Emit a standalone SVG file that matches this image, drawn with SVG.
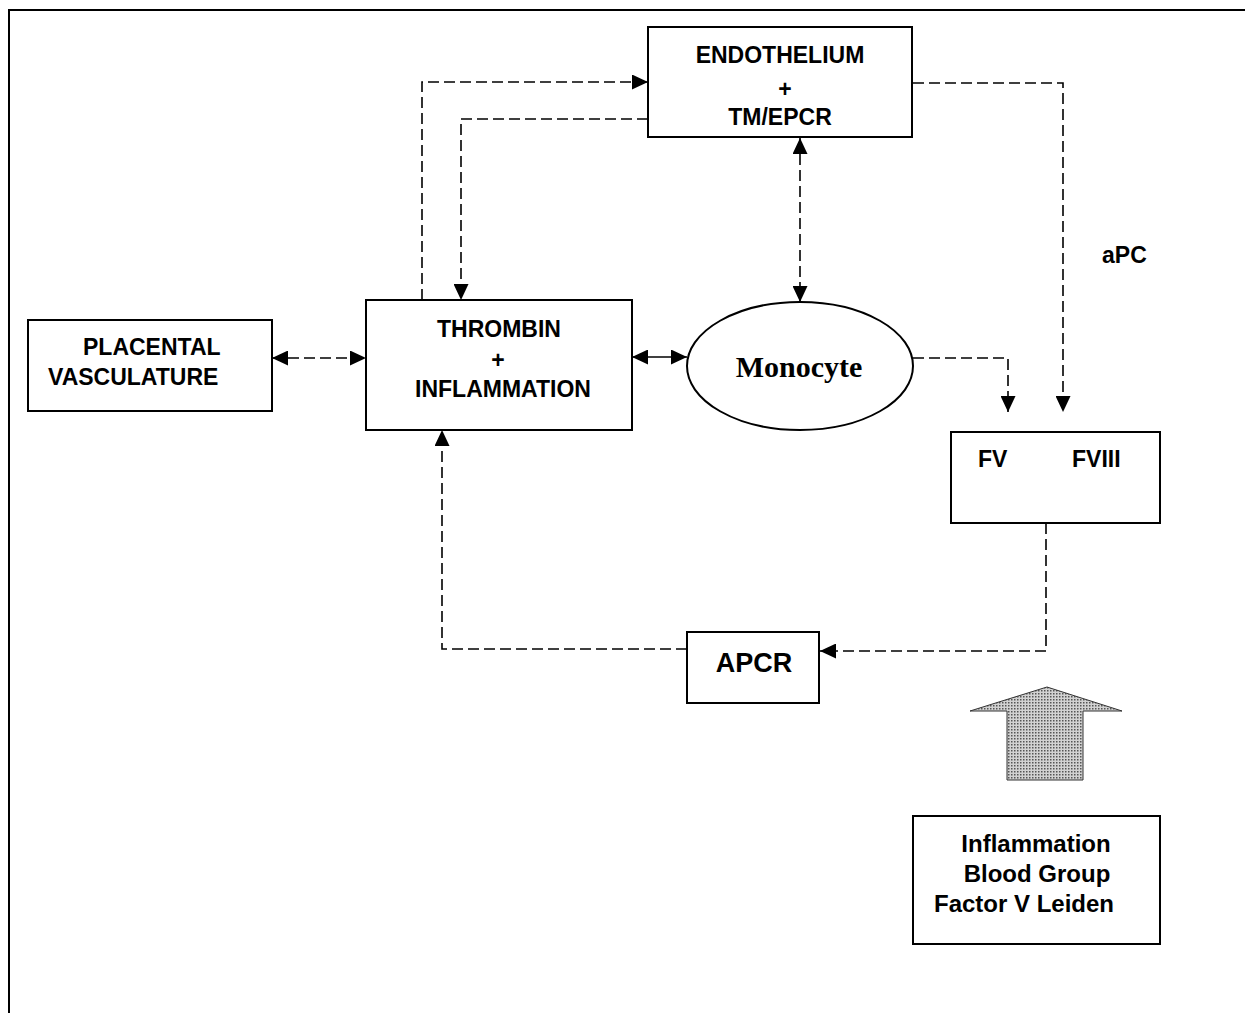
<svg xmlns="http://www.w3.org/2000/svg" width="1245" height="1013" viewBox="0 0 1245 1013">
<style>
.box{fill:#fff;stroke:#000;stroke-width:2}
.lbl{font-family:"Liberation Sans",Arial,sans-serif;font-weight:bold;font-size:23px;fill:#000}
.ser{font-family:"Liberation Serif","Times New Roman",serif;font-weight:bold;font-size:30px;fill:#000}
.c{text-anchor:middle}
.dash{fill:none;stroke:#000;stroke-width:1.6;stroke-dasharray:11 5}
.solid{fill:none;stroke:#000;stroke-width:1.6}
</style>
<defs>
<marker id="ah" markerUnits="userSpaceOnUse" markerWidth="16" markerHeight="15" viewBox="0 0 16 15" refX="16" refY="7.5" orient="auto-start-reverse">
<path d="M0,0 L16,7.5 L0,15 z" fill="#000"/>
</marker>
<pattern id="dots" width="3" height="3" patternUnits="userSpaceOnUse">
<rect width="3" height="3" fill="#d2d2d2"/>
<rect width="1.5" height="1.5" fill="#555"/>
</pattern>
</defs>
<rect width="1245" height="1013" fill="#fff"/>
<g id="frame">
<path d="M9,1013 V10 H1245" fill="none" stroke="#000" stroke-width="2"/>
</g>
<g id="connectors">
<path class="dash" d="M422,300 V82 H648" marker-end="url(#ah)"/>
<path class="dash" d="M648,119 H461 V300" marker-end="url(#ah)"/>
<path class="dash" d="M800,138 V302" marker-start="url(#ah)" marker-end="url(#ah)"/>
<path class="dash" d="M913,83 H1063 V412" marker-end="url(#ah)"/>
<path class="dash" d="M913,358 H1008 V412" marker-end="url(#ah)"/>
<path class="dash" d="M272,358 H366" marker-start="url(#ah)" marker-end="url(#ah)"/>
<path class="solid" d="M632,357 H687" marker-start="url(#ah)" marker-end="url(#ah)"/>
<path class="dash" d="M1046,523 V651 H820" marker-end="url(#ah)"/>
<path class="dash" d="M687,649 H442 V430" marker-end="url(#ah)"/>
</g>
<g id="endothelium">
<rect class="box" x="648" y="27" width="264" height="110"/>
<text class="lbl c" x="780" y="63">ENDOTHELIUM</text>
<text class="lbl c" x="785" y="97">+</text>
<text class="lbl c" x="780" y="125">TM/EPCR</text>
</g>
<g id="placental">
<rect class="box" x="28" y="320" width="244" height="91"/>
<text class="lbl" x="83" y="355">PLACENTAL</text>
<text class="lbl" x="48" y="385">VASCULATURE</text>
</g>
<g id="thrombin">
<rect class="box" x="366" y="300" width="266" height="130"/>
<text class="lbl c" x="499" y="337">THROMBIN</text>
<text class="lbl c" x="498" y="368">+</text>
<text class="lbl c" x="503" y="397">INFLAMMATION</text>
</g>
<g id="monocyte">
<ellipse cx="800" cy="366" rx="113" ry="64" fill="#fff" stroke="#000" stroke-width="2"/>
<text class="ser c" x="799" y="377">Monocyte</text>
</g>
<g id="apc-label">
<text class="lbl" x="1102" y="263">aPC</text>
</g>
<g id="factors">
<rect class="box" x="951" y="432" width="209" height="91"/>
<text class="lbl" x="978" y="467">FV</text>
<text class="lbl" x="1072" y="467">FVIII</text>
</g>
<g id="apcr">
<rect class="box" x="687" y="632" width="132" height="71"/>
<text class="lbl c" x="754" y="672" style="font-size:27px">APCR</text>
</g>
<g id="big-arrow">
<polygon points="1047,687 1122,711 1083,711 1083,780 1007,780 1007,711 970,711" fill="url(#dots)" stroke="#333" stroke-width="1"/>
</g>
<g id="risk-factors">
<rect class="box" x="913" y="816" width="247" height="128"/>
<text class="lbl c" x="1036" y="852" style="font-size:24px">Inflammation</text>
<text class="lbl c" x="1037" y="882" style="font-size:24px">Blood Group</text>
<text class="lbl c" x="1024" y="912" style="font-size:24px">Factor V Leiden</text>
</g>
</svg>
